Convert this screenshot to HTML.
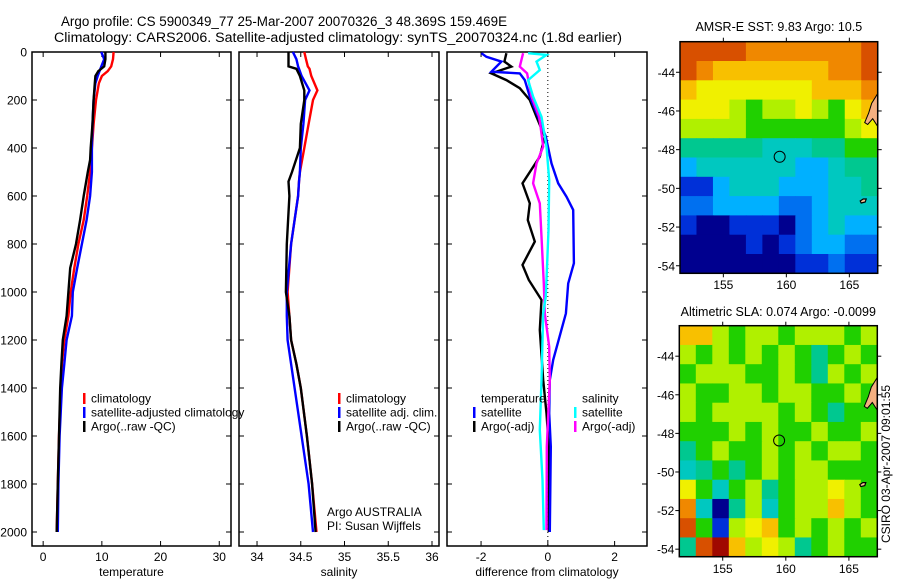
<!DOCTYPE html>
<html><head><meta charset="utf-8">
<style>
html,body{margin:0;padding:0;background:#fff;}
svg{display:block;font-family:"Liberation Sans",sans-serif;}
</style></head>
<body>
<svg id="fig" width="900" height="580" viewBox="0 0 900 580" xmlns="http://www.w3.org/2000/svg">
<rect width="900" height="580" fill="#fff"/>
<text x="61" y="26" font-size="13.5" textLength="446" lengthAdjust="spacingAndGlyphs">Argo profile: CS 5900349_77 25-Mar-2007 20070326_3 48.369S 159.469E</text>
<text x="54" y="42" font-size="13.5" textLength="568" lengthAdjust="spacingAndGlyphs">Climatology: CARS2006. Satellite-adjusted climatology: synTS_20070324.nc (1.8d earlier)</text>
<g id="plots"></g>
</svg>
<script>
// ---------- profile data ----------
const depthT = [0,30,60,80,100,130,200,300,400,450,500,600,700,800,900,1000,1100,1200,1300,1400,1600,1800,2000];
const tempClim = [12.0,11.9,11.6,11.0,10.0,9.5,9.0,8.6,8.3,8.2,8.0,7.5,6.9,6.0,5.3,4.7,4.3,3.6,3.2,3.0,2.7,2.5,2.3];
const tempSat = [9.9,10.4,9.9,9.6,9.3,8.9,8.6,8.4,8.3,8.3,8.3,8.0,7.4,6.6,5.8,5.05,4.9,4.0,3.6,3.2,2.8,2.6,2.5];
const tempArgo = [10.6,10.6,10.4,9.4,8.9,8.8,8.6,8.4,8.1,8.0,7.6,6.9,6.3,5.6,4.6,4.3,4.0,3.35,3.1,2.9,2.7,2.5,2.3];

const depthS = [0,30,60,70,100,160,200,300,400,500,540,600,800,1000,1100,1200,1300,1400,1600,1800,2000];
const salClim = [34.54,34.56,34.58,34.6,34.62,34.69,34.64,34.59,34.54,34.49,34.48,34.47,34.39,34.35,34.37,34.39,34.45,34.5,34.57,34.63,34.68];
const salSat = [34.41,34.45,34.47,34.48,34.51,34.6,34.55,34.53,34.5,34.49,34.48,34.47,34.39,34.34,34.34,34.35,34.39,34.43,34.51,34.59,34.64];
const salArgo = [34.36,34.36,34.36,34.45,34.49,34.54,34.54,34.5,34.49,34.40,34.36,34.37,34.34,34.33,34.37,34.39,34.45,34.5,34.57,34.63,34.67];

const dTempArgoDepth = [5,40,61,89,117,151,200,270,353,436,547,631,700,790,887,950,1033,1158,1367,1506,1644,2000];
const dTempArgo = [-1.24,-1.3,-1.09,-1.69,-1.24,-0.84,-0.54,-0.34,-0.09,-0.24,-0.76,-0.54,-0.6,-0.39,-0.76,-0.57,-0.19,-0.24,-0.14,-0.04,0.03,0.03];
const dTempSatDepth = [5,20,40,61,82,89,117,186,270,353,464,547,603,658,880,964,1089,1283,1367,1506,1644,2000];
const dTempSat = [-1.99,-1.84,-1.39,-1.54,-1.69,-0.84,-0.69,-0.54,-0.29,-0.06,0.11,0.31,0.56,0.76,0.78,0.61,0.54,0.16,0.06,0.04,0.09,0.06];
const dSalSatDepth = [5,12,40,75,117,186,270,394,533,742,1019,1089,1367,1575,1783,1992];
const dSalSat = [-0.59,-0.04,-0.34,-0.24,-0.59,-0.44,-0.19,-0.04,0.04,0.02,-0.06,-0.14,-0.19,-0.24,-0.16,-0.12];
const dSalArgoDepth = [5,61,89,186,270,394,464,547,631,769,964,1089,1228,1367,1644,1992];
const dSalArgo = [-0.74,-0.84,-0.62,-0.49,-0.26,-0.14,-0.34,-0.44,-0.24,-0.19,-0.12,-0.09,0.04,0.06,-0.03,-0.04];

const depthTicks = [0,200,400,600,800,1000,1200,1400,1600,1800,2000];
const tempTicks = [0,10,20,30];
const salTicks = [34,34.5,35,35.5,36];
const diffTicks = [-2,0,2];

// ---------- map data (colour index 0..12) ----------
const sstGrid = [
[11,11,11,11,10,10,10,10,10,10,10,11],
[11,10,9,9,9,9,9,9,9,10,10,11],
[9,8,8,8,8,8,8,8,9,9,9,10],
[8,8,8,7,6,7,7,8,7,6,8,9],
[7,7,7,7,6,6,6,6,6,6,7,8],
[5,5,5,5,5,4,4,4,5,5,6,6],
[3,4,4,4,4,4,4,3,3,4,5,5],
[1,1,3,4,4,4,3,3,3,4,4,5],
[2,2,3,3,3,3,2,2,3,4,4,4],
[1,0,0,1,1,1,0,2,3,4,3,3],
[0,0,0,0,1,0,1,2,3,3,2,2],
[0,0,0,0,0,0,0,1,1,2,1,1]];
const slaGrid = [
[9,9,7,6,7,7,6,7,7,7,6,7],
[7,6,7,6,7,6,7,6,5,6,7,6],
[6,7,7,7,6,6,7,6,5,7,6,7],
[7,6,6,7,7,6,7,7,6,6,7,6],
[7,6,7,7,7,7,6,7,6,5,6,6],
[6,6,6,7,6,7,6,6,7,6,6,7],
[5,6,7,6,6,7,6,7,6,7,7,6],
[4,5,6,5,6,7,6,7,7,6,6,6],
[8,6,4,6,7,5,6,7,7,8,7,6],
[10,4,0,5,7,4,6,7,7,9,7,6],
[11,6,1,7,8,9,6,7,6,7,6,7],
[5,11,12,9,7,8,7,5,6,7,6,6]];
const palette = ['#00008f','#0030d8','#0070f0','#00b0ff','#00c8c0','#00c890','#20d000','#b0f000','#f0f000','#f8c000','#f08800','#d85000','#a00800'];
const lonTicks = [155,160,165];
const latTicks = [-44,-46,-48,-50,-52,-54];
const argoLon = 159.469, argoLat = -48.369;

// ---------- helpers ----------
const NS='http://www.w3.org/2000/svg';
const root=document.getElementById('plots');
function mk(tag,attrs,parent){const e=document.createElementNS(NS,tag);for(const k in attrs)e.setAttribute(k,attrs[k]);(parent||root).appendChild(e);return e;}
function txt(x,y,s,size,anchor,parent){const t=mk('text',{x:x,y:y,'font-size':size,'text-anchor':anchor||'start'},parent);t.textContent=s;return t;}

const PT=52, PB=546;
const yDepth = d => PT + d*0.24;

function profilePanel(name,x0,x1,vmin,vmax,xticks,xlabel,showY){
  const g=mk('g',{});
  
  
  const sx = v => x0 + (v-vmin)/(vmax-vmin)*(x1-x0);
  mk('rect',{x:x0,y:PT,width:x1-x0,height:PB-PT,fill:'none',stroke:'#000','stroke-width':1.5},g);
  depthTicks.forEach(d=>{
    const y=yDepth(d);
    mk('line',{x1:x0,y1:y,x2:x0+5,y2:y,stroke:'#000'},g);
    mk('line',{x1:x1-5,y1:y,x2:x1,y2:y,stroke:'#000'},g);
    if(showY){const t=txt(27,y+4.5,String(d),12,'end',g);
      
      }
  });
  xticks.forEach(v=>{
    const x=sx(v);
    mk('line',{x1:x,y1:PB,x2:x,y2:PB-5,stroke:'#000'},g);
    mk('line',{x1:x,y1:PT,x2:x,y2:PT+5,stroke:'#000'},g);
    const t=txt(x,561,String(v),12,'middle',g);
    
    
  });
  const lab=txt((x0+x1)/2,576,xlabel,12,'middle',g);
  
  
  return {g,sx};
}
function series(p,vals,depths,color,name){
  const pts=vals.map((v,i)=>p.sx(v).toFixed(1)+','+yDepth(depths[i]).toFixed(1)).join(' ');
  const l=mk('polyline',{points:pts,fill:'none',stroke:color,'stroke-width':2.4,'stroke-linejoin':'miter'},p.g);
  
  
}
function legend(g,x,y,items){
  items.forEach((it,i)=>{
    const yy=y+i*14;
    if(it[1]) mk('rect',{x:x,y:yy-5,width:2.5,height:11,fill:it[1]},g);
    const t=txt(x+8,yy+4.5,it[0],12,'start',g);
    
    
  });
}

// Temperature panel
const pT=profilePanel('temperature-panel',32,231,-1.9,32.0,tempTicks,'temperature',true);
series(pT,tempClim,depthT,'#ff0000','temp-climatology-line');
series(pT,tempSat,depthT,'#0000ff','temp-satellite-line');
series(pT,tempArgo,depthT,'#000000','temp-argo-line');
legend(pT.g,83,398,[['climatology','#ff0000'],['satellite-adjusted climatology','#0000ff'],['Argo(..raw -QC)','#000']]);

// Salinity panel
const pS=profilePanel('salinity-panel',239,439,33.794,36.08,salTicks,'salinity',false);
series(pS,salClim,depthS,'#ff0000','sal-climatology-line');
series(pS,salSat,depthS,'#0000ff','sal-satellite-line');
series(pS,salArgo,depthS,'#000000','sal-argo-line');
legend(pS.g,338,398,[['climatology','#ff0000'],['satellite adj. clim.','#0000ff'],['Argo(..raw -QC)','#000']]);
txt(327,516,'Argo AUSTRALIA',12,'start',pS.g);
txt(327,530,'PI: Susan Wijffels',12,'start',pS.g);

// Difference panel
const pD=profilePanel('difference-panel',447,647,-3.02,2.97,diffTicks,'difference from climatology',false);
const zx=pD.sx(0);
mk('line',{x1:zx,y1:PT,x2:zx,y2:PB,stroke:'#000','stroke-dasharray':'1,3'},pD.g);
series(pD,dTempArgo,dTempArgoDepth,'#000000','diff-temp-argo-line');
series(pD,dTempSat,dTempSatDepth,'#0000ff','diff-temp-satellite-line');
series(pD,dSalArgo,dSalArgoDepth,'#ff00ff','diff-sal-argo-line');
series(pD,dSalSat,dSalSatDepth,'#00ffff','diff-sal-satellite-line');
legend(pD.g,473,398,[['temperature',null],['satellite','#0000ff'],['Argo(-adj)','#000']]);
legend(pD.g,574,398,[['salinity',null],['satellite','#00ffff'],['Argo(-adj)','#ff00ff']]);

// ---------- maps ----------
const LON0=151.56, LON1=167.25, LAT0=-42.42, LAT1=-54.39;
function mapPanel(name,x0,y0,x1,y1,grid,title,titleY,labY){
  const g=mk('g',{});
  
  
  const sx=lon=>x0+(lon-LON0)/(LON1-LON0)*(x1-x0);
  const sy=lat=>y0+(LAT0-lat)/(LAT0-LAT1)*(y1-y0);
  const nr=grid.length, nc=grid[0].length;
  const cw=(x1-x0)/nc, ch=(y1-y0)/nr;
  grid.forEach((row,r)=>row.forEach((v,c)=>{
    const cell=mk('rect',{x:(x0+c*cw).toFixed(2),y:(y0+r*ch).toFixed(2),width:(cw+0.6).toFixed(2),height:(ch+0.6).toFixed(2),fill:palette[v]},g);
    
    
  }));
  // land blobs
  mk('path',{d:`M${x1} ${sy(-45.1)} L${x1-6} ${sy(-45.6)} L${x1-9} ${sy(-46.1)} L${x1-13} ${sy(-46.6)} L${x1-10} ${sy(-46.7)} L${x1-5} ${sy(-46.4)} L${x1} ${sy(-46.8)} Z`,fill:'#f4b080',stroke:'#000','stroke-width':1},g);
  mk('path',{d:`M${sx(166.1)} ${sy(-50.55)} l3 0 l-1 3 l-4 1 l-1 -2 Z`,fill:'#f4c090',stroke:'#000','stroke-width':1.2},g);
  mk('rect',{x:x0,y:y0,width:x1-x0,height:y1-y0,fill:'none',stroke:'#000','stroke-width':1.5},g);
  lonTicks.forEach(l=>{const x=sx(l);
    mk('line',{x1:x,y1:y0,x2:x,y2:y0-4,stroke:'#000'},g);
    mk('line',{x1:x,y1:y1,x2:x,y2:y1+4,stroke:'#000'},g);
    const t=txt(x,labY,String(l),12,'middle',g);
    
    });
  latTicks.forEach(l=>{const y=sy(l);
    mk('line',{x1:x0,y1:y,x2:x0-4,y2:y,stroke:'#000'},g);
    mk('line',{x1:x1,y1:y,x2:x1+4,y2:y,stroke:'#000'},g);
    const t=txt(x0-5,y+4.5,String(l),12,'end',g);
    
    });
  const c=mk('circle',{cx:sx(argoLon),cy:sy(argoLat),r:5.5,fill:'none',stroke:'#000','stroke-width':1},g);
  
  
  const tt=txt((x0+x1)/2,titleY,title,12.5,'middle',g);
  
  
}
mapPanel('sst-map',680,41.7,877.7,273.3,sstGrid,'AMSR-E SST: 9.83 Argo: 10.5',31,289);
mapPanel('sla-map',679.3,325.7,877.3,556.7,slaGrid,'Altimetric SLA: 0.074 Argo: -0.0099',316,573);
const st=txt(0,0,'CSIRO 03-Apr-2007 09:01:55',12,'middle');
st.setAttribute('transform','translate(890,464) rotate(-90)');


</script>
</body></html>
